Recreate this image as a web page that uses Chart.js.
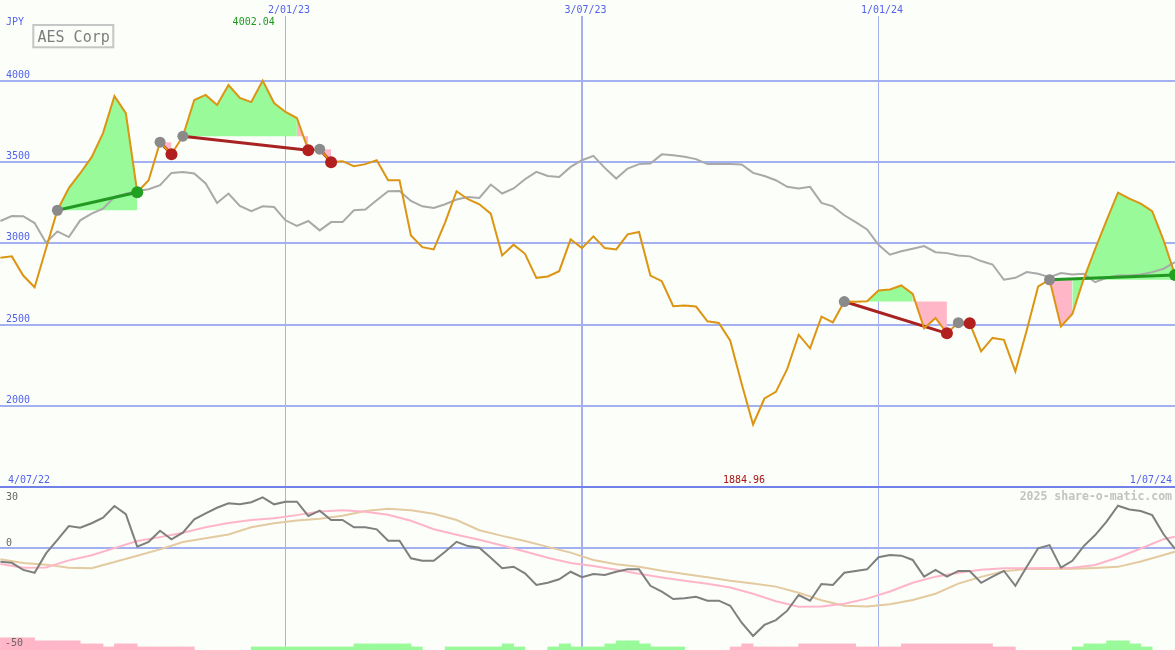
<!DOCTYPE html>
<html lang="en"><head><meta charset="utf-8"><title>AES Corp</title>
<script src="https://cdn.jsdelivr.net/npm/chart.js@4.4.1/dist/chart.umd.min.js"></script>
<style>
html,body{margin:0;padding:0;background:#fcfef9;overflow:hidden}
#wrap{position:relative;width:1175px;height:650px;background:#fcfef9;overflow:hidden}
canvas{position:absolute;left:0;display:block}
#priceCanvas{top:0}
#oscCanvas{top:484px}
</style></head><body>
<div id="wrap"><canvas id="priceCanvas" width="1175" height="487"></canvas><canvas id="oscCanvas" width="1175" height="166"></canvas></div>
<script>
// ---------------- data (weekly, week index 1..104) ----------------
const title = 'AES Corp';
const currency = 'JPY';
const startDate = '4/07/22';
const endDate = '1/07/24';
const watermark = '2025 share-o-matic.com';

const price = [2912,2920,2802,2730,2969,3204,3340,3432,3531,3679,
 3907,3802,3315,3389,3623,3549,3660,3883,3914,3852,
 3975,3895,3870,4002.04,3864,3809,3772,3574,3580,3500,
 3506,3475,3488,3512,3389,3389,3049,2977,2963,3130,
 3321,3272,3241,3183,2926,2992,2936,2788,2796,2829,
 3025,2971,3043,2971,2963,3056,3070,2802,2767,2613,
 2617,2611,2520,2510,2401,2136,1884.96,2045,2086,2227,
 2438,2354,2549,2514,2642,2640,2644,2710,2716,2741,
 2689,2477,2541,2446,2512,2508,2335,2418,2406,2212,
 2465,2735,2776,2488,2566,2782,2966,3142,3313,3276,
 3245,3198,3019,2805];

const benchmark = [3138,3168,3167,3125,3004,3074,3039,3142,3183,3214,
 3286,3306,3323,3333,3358,3434,3440,3430,3369,3249,
 3307,3230,3198,3228,3224,3142,3107,3138,3080,3131,
 3131,3204,3208,3265,3321,3323,3261,3228,3218,3241,
 3270,3286,3280,3362,3307,3338,3395,3440,3415,3409,
 3471,3512,3539,3465,3399,3461,3488,3492,3548,3543,
 3533,3519,3488,3488,3488,3486,3434,3415,3389,3348,
 3338,3348,3249,3228,3173,3131,3086,2991,2930,2951,
 2967,2983,2946,2940,2926,2920,2891,2870,2776,2788,
 2823,2813,2792,2817,2809,2813,2761,2788,2802,2802,
 2809,2823,2844,2885];

const momentum = [-6.7,-7.2,-10.7,-12.1,-2.6,4.0,10.8,10.0,12.2,14.9,
 20.7,16.7,0.7,3.1,8.5,4.3,7.6,14.1,17.1,19.8,
 22.0,21.5,22.5,24.9,21.5,22.8,22.8,15.8,18.4,13.8,
 13.8,10.2,10.2,9.2,3.6,3.6,-5.0,-6.2,-6.2,-1.8,
 3.1,1.0,0.2,-4.7,-9.9,-9.1,-12.4,-18.1,-17.0,-15.3,
 -11.6,-14.3,-12.7,-13.2,-11.6,-10.4,-10.4,-18.5,-21.4,-25.0,
 -24.6,-23.9,-25.8,-25.8,-28.3,-36.6,-43.1,-37.7,-35.3,-30.7,
 -23.0,-25.8,-17.6,-18.1,-12.1,-11.2,-10.4,-4.5,-3.4,-3.7,
 -5.8,-14.0,-10.7,-14.0,-11.2,-11.2,-17.0,-14.0,-11.2,-18.5,
 -9.1,-0.1,1.5,-9.6,-6.2,1.0,6.4,13.0,20.8,19.0,
 18.2,16.2,6.8,-0.4];

const maWeeks = [1,3,5,7,9,11,13,15,17,19,21,23,25,27,29,31,33,35,37,39,41,43,45,47,49,51,
 53,55,57,59,61,63,65,67,69,71,73,75,77,79,81,83,85,87,89,91,93,95,97,99,101,103,104];
const maFast = [-7.8,-9.6,-9.5,-6.0,-3.5,0.0,3.5,5.4,7.5,10.2,12.3,13.8,14.7,16.2,18.0,18.6,17.9,16.4,
 13.4,9.3,6.6,4.1,1.3,-1.7,-4.7,-7.3,-8.8,-10.6,-12.6,-14.4,-16.0,-17.5,-19.3,-22.4,-26.1,-28.8,
 -28.6,-27.3,-24.8,-21.3,-17.0,-14.0,-12.1,-10.6,-9.9,-9.9,-9.7,-9.6,-8.3,-4.6,-0.2,4.4,5.6];
const maSlow = [-5.5,-7.3,-8.1,-9.6,-9.9,-6.8,-3.7,-0.6,3.0,4.8,6.7,10.2,12.2,13.6,14.4,15.9,18.2,19.3,
 18.6,16.9,13.8,8.8,6.0,3.5,0.6,-2.2,-5.8,-7.9,-9.1,-11.1,-12.7,-14.3,-16.0,-17.4,-18.9,-21.9,
 -25.6,-28.3,-28.7,-27.5,-25.5,-22.4,-17.4,-14.1,-11.3,-10.2,-10.2,-10.1,-9.7,-9.2,-6.6,-3.4,-1.8];

// signal strength per week interval (week k .. k+1), k = 1..103; + green, - pink
const histValues = [-6,-6,-6,-4.5,-4.5,-4.5,-4.5,-3,-3,-1.5,
 -3,-3,-1.5,-1.5,-1.5,-1.5,-1.5,0,0,0,
 0,0,1.5,1.5,1.5,1.5,1.5,1.5,1.5,1.5,
 1.5,3,3,3,3,3,1.5,0,0,1.5,
 1.5,1.5,1.5,1.5,3,1.5,0,0,1.5,3,
 1.5,1.5,1.5,3,4.5,4.5,3,1.5,1.5,1.5,
 0,0,0,0,-1.5,-3,-1.5,-1.5,-1.5,-1.5,
 -3,-3,-3,-3,-3,-1.5,-1.5,-1.5,-1.5,-3,
 -3,-3,-3,-3,-3,-3,-3,-1.5,-1.5,0,
 0,0,0,0,1.5,3,3,4.5,4.5,3,
 1.5,0,0];

const tradeEntry = [6,15,17,29,75,85,93];
const tradeExit  = [13,16,28,30,84,86,104];

const gridWeeks = [26,52,78];
const gridDateLabels = ['2/01/23','3/07/23','1/01/24'];
const priceTicks = [2000,2500,3000,3500,4000];
const oscGrid = [30,0];
const oscTicks = [30,0,-50];

// ---------------- styles ----------------
const BG = '#fcfef9';
const GRID = '#a3b1f1';
const DIVIDER = '#7181e9';
const LABEL_BLUE = '#5263ea';
const ORANGE = '#dc9512';
const BENCH = '#a9a9a9';
const FILL_UP = '#98fa98';
const FILL_DOWN = '#ffb7c8';
const ENTRY_C = '#8a8a8a';
const LOSS_C = '#b21f1f';
const WIN_C = '#22a022';
const LOSS_LINE = '#a82222';
const WIN_LINE = '#229922';
const MOM_C = '#7f7f7f';
const FAST_C = '#ffb5c9';
const SLOW_C = '#e3caa0';
const MONO = '"DejaVu Sans Mono", "Liberation Mono", monospace';
const GRID_V_WIDTHS = [1,2,1];
const X_MIN = 0.965, X_MAX = 104;

const series = arr => arr.map((v, i) => ({x: i + 1, y: v}));
const priceRange = (a, b) => price.slice(a - 1, b).map((v, k) => ({x: a + k, y: v}));

function xScale() {
  return {
    type: 'linear', min: X_MIN, max: X_MAX, bounds: 'data', offset: false,
    afterBuildTicks: s => { s.ticks = gridWeeks.map(v => ({value: v})); },
    ticks: {display: false}, border: {display: false},
    grid: {drawTicks: false, offset: false, color: GRID,
      lineWidth: c => GRID_V_WIDTHS[c.index] || 1}
  };
}

// ---------------- price panel ----------------
const priceDatasets = [];
tradeEntry.forEach((e, n) => {
  const x = tradeExit[n];
  const entryVal = price[e - 1];
  priceDatasets.push({
    data: priceRange(e, x), borderColor: 'rgba(0,0,0,0)', borderWidth: 1,
    backgroundColor: FILL_UP, fill: {value: entryVal}, pointRadius: 0, order: 20,
    segment: {backgroundColor: c => c.p1.parsed.y > entryVal ? FILL_UP : FILL_DOWN}
  });
});
priceDatasets.push({data: series(benchmark), borderColor: BENCH, borderWidth: 2, pointRadius: 0, fill: false, order: 15});
tradeEntry.forEach((e, n) => {
  const x = tradeExit[n];
  const win = price[x - 1] > price[e - 1];
  priceDatasets.push({
    data: [{x: e, y: price[e - 1]}, {x: x, y: price[x - 1]}],
    borderColor: win ? WIN_LINE : LOSS_LINE, borderWidth: 3, pointRadius: 0, fill: false, order: 12
  });
});
priceDatasets.push({data: series(price), borderColor: ORANGE, borderWidth: 2, pointRadius: 0, fill: false, order: 8});
priceDatasets.push({
  data: tradeEntry.map(e => ({x: e, y: price[e - 1]})), showLine: false,
  pointRadius: 5.5, pointBorderWidth: 0, pointBackgroundColor: ENTRY_C, order: 3, clip: 10
});
priceDatasets.push({
  data: tradeExit.map(x => ({x: x, y: price[x - 1]})), showLine: false,
  pointRadius: 6, pointBorderWidth: 0, order: 2, clip: 10,
  pointBackgroundColor: tradeExit.map((x, n) => price[x - 1] > price[tradeEntry[n] - 1] ? WIN_C : LOSS_C)
});

const priceLabels = {
  id: 'priceLabels',
  afterDraw(chart) {
    const {ctx, scales: {x, y}} = chart;
    ctx.save();
    ctx.font = '10px ' + MONO;
    ctx.textBaseline = 'alphabetic';
    ctx.fillStyle = LABEL_BLUE;
    ctx.textAlign = 'left';
    priceTicks.forEach(v => ctx.fillText(String(v), 6, y.getPixelForValue(v) - 3));
    ctx.fillText(currency, 6, 24.5);
    ctx.fillText(startDate, 8, 483);
    ctx.textAlign = 'right';
    ctx.fillText(endDate, 1172, 483);
    ctx.textAlign = 'center';
    gridWeeks.forEach((w, k) => ctx.fillText(gridDateLabels[k], x.getPixelForValue(w) + 3.5, 13));
    // max / min
    let mx = 0, mn = 0;
    price.forEach((v, i) => { if (v > price[mx]) mx = i; if (v < price[mn]) mn = i; });
    ctx.fillStyle = '#1e9a1e';
    ctx.fillText(price[mx].toFixed(2), x.getPixelForValue(mx + 1) - 9, 24.5);
    ctx.fillStyle = '#a81414';
    ctx.fillText(price[mn].toFixed(2), x.getPixelForValue(mn + 1) - 9, 483);
    // title box
    ctx.fillStyle = BG;
    ctx.fillRect(33.3, 25, 80, 22.3);
    ctx.strokeStyle = '#c6c6c6';
    ctx.lineWidth = 2;
    ctx.strokeRect(33.3, 25, 80, 22.3);
    ctx.fillStyle = '#7d7d7d';
    ctx.font = '15px ' + MONO;
    ctx.textAlign = 'left';
    ctx.fillText(title, 37.5, 41.5);
    ctx.restore();
  }
};

new Chart(document.getElementById('priceCanvas'), {
  type: 'line',
  data: {datasets: priceDatasets},
  options: {
    responsive: false, animation: false, events: [],
    layout: {autoPadding: false, padding: {top: 16, left: 0, right: 0, bottom: 0}},
    elements: {line: {tension: 0}},
    plugins: {legend: {display: false}, tooltip: {enabled: false}},
    scales: {
      x: xScale(),
      y: {
        type: 'linear', min: 1500, max: 4400, bounds: 'data',
        afterBuildTicks: s => { s.ticks = priceTicks.map(v => ({value: v})); },
        ticks: {display: false}, border: {display: false},
        grid: {drawTicks: false, color: GRID, lineWidth: 2}
      }
    }
  },
  plugins: [priceLabels]
});

// ---------------- oscillator panel ----------------
const histData = [], histColors = [];
histValues.forEach((v, k) => {
  if (v === 0) return;
  histData.push({x: k + 1.5, y: [-50, -50 + Math.abs(v)]});
  histColors.push(v > 0 ? FILL_UP : FILL_DOWN);
});

const oscLabels = {
  id: 'oscLabels',
  afterDraw(chart) {
    const {ctx, scales: {y}} = chart;
    ctx.save();
    ctx.textBaseline = 'alphabetic';
    ctx.font = '10px ' + MONO;
    ctx.fillStyle = '#666666';
    ctx.textAlign = 'left';
    const offs = [13, -2.6, -4.5];
    oscTicks.forEach((v, k) => ctx.fillText(String(v), v < 0 ? 5 : 6, y.getPixelForValue(v) + offs[k]));
    ctx.font = 'bold 11.5px ' + MONO;
    ctx.fillStyle = '#c3c3c3';
    ctx.textAlign = 'right';
    ctx.fillText(watermark, 1172, y.getPixelForValue(oscTicks[0]) + 13);
    ctx.restore();
  }
};

new Chart(document.getElementById('oscCanvas'), {
  type: 'line',
  data: {datasets: [
    {type: 'bar', data: histData, backgroundColor: histColors, borderWidth: 0,
     barPercentage: 1, categoryPercentage: 1, grouped: false, order: 20},
    {data: maWeeks.map((w, k) => ({x: w, y: maSlow[k]})), borderColor: SLOW_C, borderWidth: 2, pointRadius: 0, fill: false, order: 10},
    {data: maWeeks.map((w, k) => ({x: w, y: maFast[k]})), borderColor: FAST_C, borderWidth: 2, pointRadius: 0, fill: false, order: 8},
    {data: series(momentum), borderColor: MOM_C, borderWidth: 2, pointRadius: 0, fill: false, order: 2}
  ]},
  options: {
    responsive: false, animation: false, events: [],
    layout: {autoPadding: false, padding: {top: 3, left: 0, right: 0, bottom: 0}},
    elements: {line: {tension: 0}},
    plugins: {legend: {display: false}, tooltip: {enabled: false}},
    scales: {
      x: xScale(),
      y: {
        type: 'linear', min: -50, max: 30, bounds: 'data',
        afterBuildTicks: s => { s.ticks = oscGrid.map(v => ({value: v})); },
        ticks: {display: false}, border: {display: false},
        grid: {drawTicks: false, lineWidth: 2, color: c => (c.tick && c.tick.value === oscGrid[0]) ? DIVIDER : GRID}
      }
    }
  },
  plugins: [oscLabels]
});
</script></body></html>
